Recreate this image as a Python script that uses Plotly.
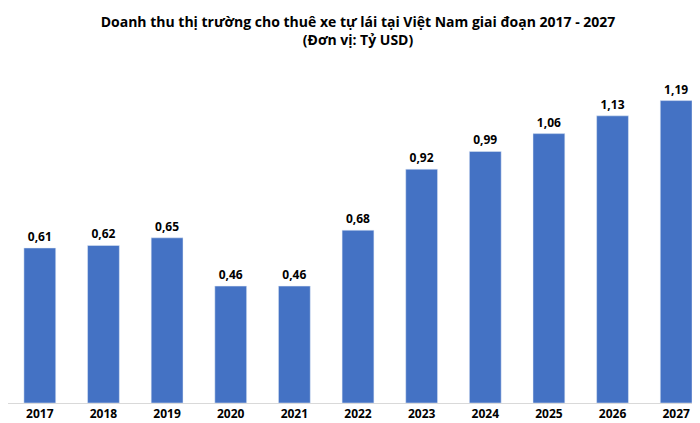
import plotly.graph_objects as go

years = ["2017", "2018", "2019", "2020", "2021", "2022", "2023", "2024", "2025", "2026", "2027"]
revenue = [0.61, 0.62, 0.65, 0.46, 0.46, 0.68, 0.92, 0.99, 1.06, 1.13, 1.19]
labels = [f"{v:.2f}".replace(".", ",") for v in revenue]

fig = go.Figure(go.Bar(
    x=years, y=revenue, text=labels, textposition="outside",
    textfont=dict(family="Open Sans", size=12, color="black", weight="bold"),
    marker=dict(color="#4472C4"), cliponaxis=False,
))
fig.update_layout(
    width=700, height=423,
    margin=dict(l=0, r=0, t=57, b=28),
    plot_bgcolor="white", paper_bgcolor="white",
    bargap=0.5,
    showlegend=False,
    title=dict(
        text="<b>Doanh thu thị trường cho thuê xe tự lái tại Việt Nam giai đoạn 2017 - 2027<br>(Đơn vị: Tỷ USD)</b>",
        x=0.5, xanchor="center", y=0.955, yanchor="top",
        font=dict(family="Open Sans", size=14, color="black"),
    ),
    xaxis=dict(showline=True, linecolor="#d9d9d9", ticks="",
               tickfont=dict(family="Open Sans", size=12, color="black", weight="bold")),
    yaxis=dict(visible=False, range=[0, 1.33]),
)
fig.write_html("out.html")
